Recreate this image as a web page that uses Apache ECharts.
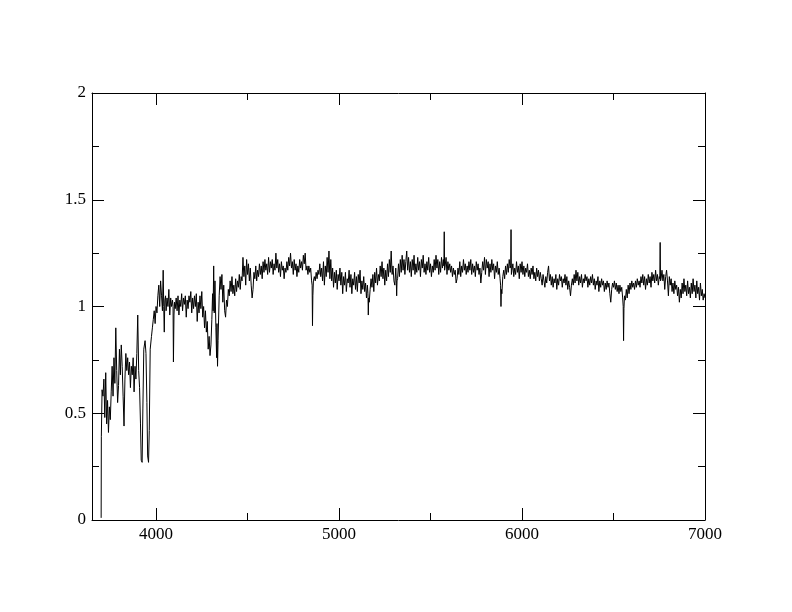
<!DOCTYPE html>
<html><head><meta charset="utf-8">
<script src="https://cdn.jsdelivr.net/npm/echarts@6/dist/echarts.min.js"></script>
<style>html,body{margin:0;padding:0;background:#fff}#c{width:792px;height:612px}</style>
</head><body><div id="c"></div>
<script>
// [wavelength, flux]
const spectrum = [
[3700,0.01],[3701,0.39],[3705,0.61],[3710,0.58],[3715,0.66],[3720,0.48],[3725,0.69],[3730,0.45],[3735,0.56],[3740,0.41],
[3745,0.53],[3750,0.47],[3755,0.60],[3760,0.72],[3765,0.58],[3770,0.76],[3775,0.64],[3780,0.90],[3785,0.70],[3790,0.55],
[3795,0.63],[3800,0.80],[3805,0.68],[3810,0.82],[3815,0.72],[3820,0.58],[3825,0.44],[3830,0.66],[3835,0.78],[3840,0.70],
[3845,0.76],[3850,0.68],[3855,0.74],[3860,0.62],[3865,0.72],[3870,0.68],[3875,0.76],[3880,0.60],[3885,0.72],[3890,0.66],
[3895,0.78],[3900,0.96],[3905,0.70],[3910,0.62],[3915,0.45],[3919,0.28],[3924,0.27],[3928,0.52],[3933,0.80],[3940,0.84],
[3945,0.78],[3950,0.55],[3954,0.30],[3959,0.27],[3963,0.42],[3968,0.80],[3975,0.86],[3980,0.90],[3985,0.94],[3990,0.98],
[3995,0.92],[4000,1.00],[4005,0.97],[4010,1.05],[4015,1.10],[4020,1.00],[4025,1.12],[4030,1.05],[4035,0.98],[4039,1.17],
[4042,1.00],[4045,0.88],[4048,1.03],[4052,1.05],[4055,0.98],[4060,1.04],[4065,1.00],[4070,1.08],[4075,0.96],[4080,1.04],
[4085,1.00],[4090,1.03],[4093,1.00],[4095,0.74],[4098,0.96],[4101,1.02],[4105,0.99],
[4110,1.04],[4115,0.98],[4120,1.05],[4125,0.96],[4130,1.03],[4135,1.00],[4140,1.06],[4145,0.98],[4150,1.04],[4155,1.01],
[4160,1.05],[4165,0.95],[4170,1.03],[4175,0.99],[4180,1.05],[4185,1.02],[4190,1.07],[4195,0.97],[4200,1.04],[4205,0.99],
[4210,1.05],[4215,1.00],[4220,1.06],[4225,0.93],[4230,1.02],[4235,0.97],[4240,1.05],[4245,0.99],[4250,1.07],[4255,0.95],
[4260,1.00],[4265,0.90],[4270,0.98],[4275,0.88],[4280,0.93],[4285,0.80],[4290,0.86],[4295,0.77],[4300,0.82],[4305,0.94],
[4309,1.06],[4312,0.98],[4315,1.19],[4318,0.97],[4322,1.12],[4327,0.90],[4331,0.76],[4333,0.92],[4336,0.72],[4339,0.84],
[4345,1.05],[4350,1.14],[4355,1.08],
[4360,1.15],[4365,1.02],[4370,1.10],[4375,0.98],[4380,0.95],[4385,1.03],[4390,1.00],[4395,1.08],[4400,1.05],[4405,1.12],
[4410,1.07],[4415,1.14],[4420,1.06],[4425,1.10],[4430,1.05],[4435,1.13],[4440,1.07],[4445,1.12],[4450,1.09],[4455,1.15],
[4460,1.08],[4465,1.14],[4470,1.12],[4475,1.23],[4480,1.14],[4485,1.19],[4490,1.10],[4495,1.22],[4500,1.15],
[4505,1.20],[4510,1.12],[4515,1.18],[4520,1.10],[4525,1.04],[4530,1.08],[4535,1.16],[4540,1.13],[4545,1.19],[4550,1.12],
[4555,1.17],[4560,1.14],[4565,1.20],[4570,1.15],[4575,1.19],[4580,1.13],[4585,1.21],[4590,1.16],[4595,1.22],[4600,1.17],
[4605,1.20],[4610,1.15],[4615,1.23],[4620,1.16],[4625,1.21],[4630,1.18],[4635,1.22],[4640,1.15],[4645,1.20],[4650,1.17],
[4655,1.25],[4660,1.18],[4665,1.22],[4670,1.16],[4675,1.20],[4680,1.14],[4685,1.21],[4690,1.17],[4695,1.19],[4700,1.13],
[4705,1.18],[4710,1.16],[4715,1.21],[4720,1.17],[4725,1.23],[4730,1.19],[4735,1.25],[4740,1.18],[4745,1.21],[4750,1.15],
[4755,1.22],[4760,1.17],[4765,1.20],[4770,1.14],[4775,1.19],[4780,1.16],[4785,1.22],[4790,1.18],[4795,1.21],[4800,1.17],
[4805,1.24],[4810,1.20],[4815,1.25],[4820,1.17],[4825,1.19],[4830,1.15],[4835,1.19],[4840,1.16],[4845,1.18],[4850,1.12],
[4853,1.10],[4855,0.91],[4857,1.05],[4860,1.12],[4865,1.14],[4870,1.12],[4875,1.16],[4880,1.13],[4885,1.17],[4890,1.15],[4895,1.20],[4900,1.14],
[4905,1.18],[4910,1.12],[4915,1.21],[4920,1.10],[4925,1.19],[4930,1.14],[4935,1.23],[4940,1.16],[4945,1.26],[4950,1.13],
[4955,1.22],[4960,1.12],[4965,1.18],[4970,1.09],[4975,1.16],[4980,1.11],[4985,1.17],[4990,1.08],[4995,1.15],[5000,1.12],
[5005,1.18],[5010,1.10],[5015,1.16],[5020,1.06],[5025,1.14],[5030,1.10],[5035,1.16],[5040,1.07],[5045,1.13],[5050,1.11],
[5055,1.17],[5060,1.09],[5065,1.15],[5070,1.06],[5075,1.13],[5080,1.10],[5085,1.16],[5090,1.08],[5095,1.14],[5100,1.07],
[5105,1.15],[5110,1.11],[5115,1.17],[5120,1.06],[5125,1.12],[5130,1.08],[5135,1.14],[5140,1.07],[5145,1.11],[5150,1.04],
[5155,1.10],[5158,1.06],[5160,0.96],[5162,1.04],[5165,1.02],[5170,1.08],[5175,1.13],[5180,1.09],[5185,1.15],[5190,1.07],[5195,1.16],[5200,1.11],
[5205,1.18],[5210,1.10],[5215,1.15],[5220,1.12],[5225,1.19],[5230,1.14],[5235,1.21],[5240,1.13],[5245,1.18],[5250,1.10],
[5255,1.17],[5260,1.12],[5265,1.20],[5270,1.14],[5275,1.22],[5280,1.16],[5285,1.26],[5290,1.15],[5295,1.19],[5300,1.12],
[5305,1.10],[5310,1.18],[5313,1.12],[5315,1.05],[5317,1.12],[5320,1.13],[5325,1.20],[5330,1.14],[5335,1.22],[5340,1.16],[5345,1.24],[5350,1.17],
[5355,1.22],[5360,1.15],[5365,1.21],[5370,1.26],[5375,1.17],[5380,1.23],[5385,1.16],[5390,1.21],[5395,1.14],[5400,1.22],
[5405,1.17],[5410,1.24],[5415,1.15],[5420,1.20],[5425,1.16],[5430,1.23],[5435,1.17],[5440,1.21],[5445,1.14],[5450,1.22],
[5455,1.18],[5460,1.24],[5465,1.16],[5470,1.20],[5475,1.15],[5480,1.21],[5485,1.17],[5490,1.23],[5495,1.16],[5500,1.20],
[5505,1.14],[5510,1.19],[5515,1.16],[5520,1.22],[5525,1.17],[5530,1.24],[5535,1.18],[5540,1.22],[5545,1.15],[5550,1.21],
[5555,1.16],[5560,1.23],[5565,1.18],[5570,1.22],[5573,1.19],[5575,1.35],[5577,1.17],[5580,1.19],[5585,1.23],[5590,1.15],[5595,1.21],[5600,1.17],
[5605,1.20],[5610,1.16],[5615,1.19],[5620,1.14],[5625,1.18],[5630,1.15],[5635,1.17],[5640,1.11],[5645,1.13],[5650,1.18],
[5655,1.15],[5660,1.21],[5665,1.14],[5670,1.19],[5675,1.16],[5680,1.22],[5685,1.17],[5690,1.20],[5695,1.15],[5700,1.19],
[5705,1.16],[5710,1.21],[5715,1.17],[5720,1.22],[5725,1.15],[5730,1.20],[5735,1.16],[5740,1.19],[5745,1.14],[5750,1.21],
[5755,1.17],[5760,1.20],[5765,1.15],[5770,1.18],[5775,1.11],[5780,1.16],[5785,1.21],[5790,1.17],[5795,1.23],[5800,1.15],
[5805,1.22],[5810,1.18],[5815,1.21],[5820,1.14],[5825,1.20],[5830,1.16],[5835,1.22],[5840,1.17],[5845,1.20],[5850,1.13],
[5855,1.19],[5860,1.16],[5865,1.21],[5870,1.15],[5875,1.18],[5880,1.13],[5883,1.10],[5885,1.00],[5887,1.08],[5890,1.06],[5895,1.14],[5900,1.17],
[5905,1.13],[5910,1.19],[5915,1.15],[5920,1.20],[5925,1.16],[5930,1.22],[5935,1.18],[5938,1.19],[5940,1.36],[5942,1.15],[5945,1.17],[5950,1.20],
[5955,1.14],[5960,1.18],[5965,1.15],[5970,1.21],[5975,1.16],[5980,1.19],[5985,1.13],[5990,1.20],[5995,1.16],[6000,1.21],
[6005,1.15],[6010,1.19],[6015,1.14],[6020,1.18],[6025,1.16],[6030,1.20],[6035,1.14],[6040,1.17],[6045,1.13],[6050,1.18],
[6055,1.15],[6060,1.19],[6065,1.13],[6070,1.16],[6075,1.12],[6080,1.18],[6085,1.14],[6090,1.17],[6095,1.12],[6100,1.16],
[6105,1.13],[6110,1.10],[6115,1.15],[6120,1.12],[6125,1.09],[6130,1.14],[6135,1.11],[6140,1.16],[6145,1.19],[6150,1.12],
[6155,1.15],[6160,1.10],[6165,1.14],[6170,1.09],[6175,1.13],[6180,1.11],[6185,1.15],[6190,1.08],[6195,1.13],[6200,1.10],
[6205,1.15],[6210,1.12],[6215,1.14],[6220,1.09],[6225,1.13],[6230,1.11],[6235,1.15],[6240,1.10],[6245,1.14],[6250,1.08],
[6255,1.12],[6260,1.09],[6265,1.05],[6270,1.10],[6275,1.13],[6280,1.10],[6285,1.15],[6290,1.11],[6295,1.17],[6300,1.12],
[6305,1.16],[6310,1.10],[6315,1.14],[6320,1.11],[6325,1.15],[6330,1.09],[6335,1.13],[6340,1.11],[6345,1.15],[6350,1.12],
[6355,1.14],[6360,1.09],[6365,1.13],[6370,1.10],[6375,1.14],[6380,1.11],[6385,1.15],[6390,1.10],[6395,1.13],[6400,1.08],
[6405,1.12],[6410,1.10],[6415,1.14],[6420,1.07],[6425,1.12],[6430,1.09],[6435,1.13],[6440,1.10],[6445,1.12],[6450,1.07],
[6455,1.11],[6460,1.08],[6465,1.12],[6470,1.09],[6475,1.11],[6480,1.06],[6485,1.02],[6490,1.08],[6495,1.11],[6500,1.09],
[6505,1.12],[6510,1.08],[6515,1.11],[6520,1.07],[6525,1.10],[6530,1.06],[6535,1.10],[6540,1.07],[6545,1.09],[6550,1.04],
[6553,1.00],[6555,0.84],[6557,0.99],[6560,1.05],[6565,1.03],[6570,1.08],[6575,1.04],[6580,1.10],[6585,1.06],[6590,1.11],[6595,1.08],[6600,1.12],
[6605,1.09],[6610,1.11],[6615,1.08],[6620,1.12],[6625,1.09],[6630,1.13],[6635,1.10],[6640,1.12],[6645,1.09],[6650,1.14],
[6655,1.11],[6660,1.15],[6665,1.10],[6670,1.14],[6675,1.08],[6680,1.13],[6685,1.10],[6690,1.15],[6695,1.11],[6700,1.14],
[6705,1.09],[6710,1.16],[6715,1.12],[6720,1.15],[6725,1.11],[6730,1.17],[6735,1.12],[6740,1.15],[6745,1.10],[6750,1.14],
[6753,1.13],[6755,1.30],[6757,1.12],[6760,1.13],[6765,1.17],[6770,1.12],[6775,1.15],[6780,1.08],[6785,1.14],[6790,1.17],[6795,1.12],[6800,1.05],
[6805,1.14],[6810,1.10],[6815,1.13],[6820,1.07],[6825,1.11],[6830,1.06],[6835,1.12],[6840,1.08],[6845,1.10],[6850,1.05],
[6855,1.09],[6860,1.02],[6865,1.08],[6870,1.04],[6875,1.11],[6880,1.06],[6885,1.13],[6890,1.07],[6895,1.10],[6900,1.05],
[6905,1.12],[6910,1.06],[6915,1.09],[6920,1.04],[6925,1.11],[6930,1.06],[6935,1.13],[6940,1.07],[6945,1.10],[6950,1.04],
[6955,1.12],[6960,1.06],[6965,1.09],[6970,1.03],[6975,1.11],[6980,1.05],[6985,1.08],[6990,1.03],[6995,1.06],[7000,1.04]
];
const xMajorTicks = [4000, 5000, 6000, 7000];
const xMinorTicks = [4500, 5500, 6500];
const yMajorTicks = [0, 0.5, 1, 1.5, 2];
const yMinorTicks = [0.25, 0.75, 1.25, 1.75];
const X_MIN = 3650, X_MAX = 7000, Y_MIN = 0, Y_MAX = 2;

const labelFont = {color:'#000', fontFamily:'Liberation Serif', fontSize:17};

function mkAxis(kind, pos, vals, len, showLine, showLabel) {
  const isX = kind === 'x';
  return {
    type:'value', gridIndex:0, position:pos,
    min: isX ? X_MIN : Y_MIN, max: isX ? X_MAX : Y_MAX,
    axisLine:{show:showLine, onZero:false, lineStyle:{color:'#000', width:1}},
    splitLine:{show:false},
    axisTick:{show:true, inside:true, length:len, customValues:vals, lineStyle:{color:'#000', width:1}},
    axisLabel:Object.assign({show:showLabel, customValues:vals, margin:6,
      formatter:function (v) { return String(v); }}, labelFont)
  };
}

const chart = echarts.init(document.getElementById('c'), null, {renderer:'canvas'});
chart.setOption({
  animation:false,
  backgroundColor:'#fff',
  grid:{left:92, right:87, top:93, bottom:92, containLabel:false},
  xAxis:[
    mkAxis('x','bottom', xMajorTicks, 12, true, true),
    mkAxis('x','bottom', xMinorTicks, 7, false, false),
    mkAxis('x','top', xMajorTicks, 12, true, false),
    mkAxis('x','top', xMinorTicks, 7, false, false)
  ],
  yAxis:[
    mkAxis('y','left', yMajorTicks, 12, true, true),
    mkAxis('y','left', yMinorTicks, 7, false, false),
    mkAxis('y','right', yMajorTicks, 12, true, false),
    mkAxis('y','right', yMinorTicks, 7, false, false)
  ],
  series:[{
    type:'line', xAxisIndex:0, yAxisIndex:0,
    data:spectrum, showSymbol:false, symbol:'none',
    lineStyle:{color:'#000', width:1}, silent:true
  }]
});
</script>
</body></html>
